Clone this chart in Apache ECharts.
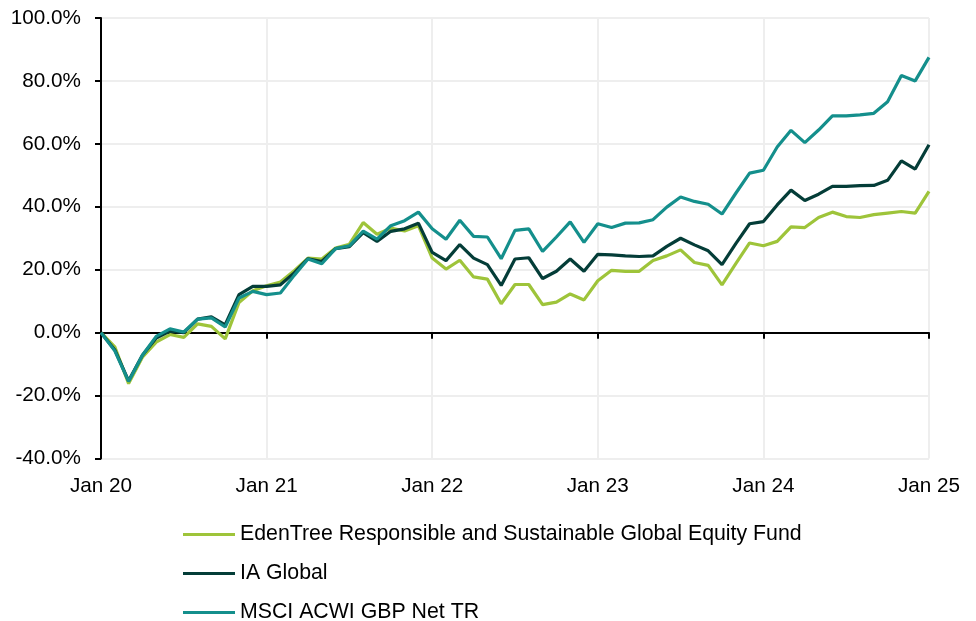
<!DOCTYPE html>
<html>
<head>
<meta charset="utf-8">
<script src="https://cdn.jsdelivr.net/npm/echarts@6/dist/echarts.min.js"></script>
<style>
  html, body { margin: 0; padding: 0; background: #ffffff; }
  #chart { width: 976px; height: 621px; }
</style>
</head>
<body>
<div id="chart"></div>
<script>
// ---- Data ----
const yearLabels = ['20', '21', '22', '23', '24', '25'];
const monthNames = ['Jan','Feb','Mar','Apr','May','Jun','Jul','Aug','Sep','Oct','Nov','Dec'];

const seriesNames = [
  'EdenTree Responsible and Sustainable Global Equity Fund',
  'IA Global',
  'MSCI ACWI GBP Net TR'
];

const edenTree = [
  0, -4.5, -16.2, -7.8, -3.0, -0.6, -1.5, 2.8, 2.0, -2.0, 9.6, 13.3,
  14.9, 16.1, 19.7, 23.7, 23.4, 26.9, 28.1, 35.0, 31.3, 33.2, 32.3, 34.0,
  23.7, 20.2, 23.0, 17.7, 17.0, 9.2, 15.3, 15.3, 8.9, 9.7, 12.3, 10.4,
  16.5, 19.8, 19.5, 19.5, 22.9, 24.4, 26.3, 22.3, 21.4, 15.2, 21.9, 28.5,
  27.6, 29.0, 33.6, 33.4, 36.6, 38.3, 36.9, 36.6, 37.5, 38.0, 38.5, 38.0,
  44.9
];

const iaGlobal = [
  0, -5.5, -15.3, -7.2, -1.7, 0.5, 0.0, 4.3, 5.0, 2.5, 12.1, 14.7,
  14.7, 15.2, 19.0, 23.5, 22.6, 26.7, 27.3, 31.8, 29.0, 32.2, 33.0, 34.8,
  25.5, 22.9, 28.0, 23.7, 21.6, 15.0, 23.4, 23.8, 17.2, 19.5, 23.4, 19.5,
  24.9, 24.7, 24.4, 24.2, 24.4, 27.4, 30.0, 27.9, 26.0, 21.6, 28.3, 34.6,
  35.3, 40.6, 45.3, 42.0, 44.0, 46.5, 46.5, 46.7, 46.8, 48.4, 54.6, 52.0,
  59.7
];

const msciAcwi = [
  0, -5.8, -15.5, -7.2, -1.2, 1.2, 0.2, 4.3, 4.7, 1.8, 11.0, 13.1,
  12.1, 12.6, 18.2, 23.4, 21.9, 26.7, 27.6, 32.3, 29.7, 34.0, 35.6, 38.3,
  33.0, 29.7, 35.7, 30.6, 30.4, 23.5, 32.5, 33.0, 25.8, 30.4, 35.2, 28.7,
  34.6, 33.4, 34.8, 34.9, 35.9, 39.9, 43.1, 41.7, 40.8, 37.7, 44.3, 50.7,
  51.6, 59.0, 64.3, 60.4, 64.4, 68.9, 68.9, 69.2, 69.7, 73.4, 81.7, 80.0,
  87.5
];

const yMin = -40, yMax = 100, yStep = 20;

// Month categories: Jan 20 ... Jan 25
const categories = [];
yearLabels.forEach((yr, i) => {
  monthNames.forEach((m, j) => {
    if (i < yearLabels.length - 1 || j === 0) categories.push(m + ' ' + yr);
  });
});

const colors = ['#9ec43a', '#043d38', '#148f8c'];
const fontFam = 'Arial, "Liberation Sans", sans-serif';
const fs = 20.7;
const legendFs = 21.3;

const chart = echarts.init(document.getElementById('chart'), null, { renderer: 'canvas' });

const legendTops = [524, 563, 602];
const legends = seriesNames.map((name, i) => ({
  orient: 'horizontal',
  left: 183,
  top: legendTops[i],
  padding: 0,
  icon: 'rect',
  itemWidth: 52,
  itemHeight: 3,
  textStyle: { fontFamily: fontFam, fontSize: legendFs, color: '#000000', lineHeight: 18 },
  data: [name]
}));

chart.setOption({
  animation: false,
  backgroundColor: '#ffffff',
  color: colors,
  grid: { left: 101, right: 47, top: 18, bottom: 162.5, containLabel: false },
  legend: legends,
  xAxis: [
    {
      type: 'category',
      data: categories,
      boundaryGap: false,
      position: 'bottom',
      axisLine: { show: false, onZero: false },
      axisTick: { show: false },
      axisLabel: {
        interval: 11,
        margin: 17,
        fontFamily: fontFam,
        fontSize: fs,
        color: '#000000'
      },
      splitLine: { show: true, interval: 11, lineStyle: { color: '#eeeeee', width: 2 } }
    },
    {
      type: 'category',
      data: categories,
      boundaryGap: false,
      position: 'bottom',
      axisLine: { show: true, onZero: true, lineStyle: { color: '#000000', width: 2 } },
      axisTick: { show: true, interval: 11, length: 6, lineStyle: { color: '#000000', width: 2 } },
      axisLabel: { show: false },
      splitLine: { show: false }
    }
  ],
  yAxis: {
    type: 'value',
    min: yMin,
    max: yMax,
    interval: yStep,
    axisLine: { show: true, onZero: false, lineStyle: { color: '#000000', width: 2 } },
    axisTick: { show: true, length: 6, lineStyle: { color: '#000000', width: 2 } },
    axisLabel: {
      margin: 20,
      fontFamily: fontFam,
      fontSize: fs,
      color: '#000000',
      formatter: v => v.toFixed(1) + '%'
    },
    splitLine: { show: true, lineStyle: { color: '#eeeeee', width: 2 } }
  },
  series: [
    { name: seriesNames[0], type: 'line', data: edenTree, xAxisIndex: 0, symbol: 'none',
      lineStyle: { width: 3.2, color: colors[0] }, itemStyle: { color: colors[0] } },
    { name: seriesNames[1], type: 'line', data: iaGlobal, xAxisIndex: 0, symbol: 'none',
      lineStyle: { width: 3.2, color: colors[1] }, itemStyle: { color: colors[1] } },
    { name: seriesNames[2], type: 'line', data: msciAcwi, xAxisIndex: 0, symbol: 'none',
      lineStyle: { width: 3.2, color: colors[2] }, itemStyle: { color: colors[2] } }
  ]
});
</script>
</body>
</html>
